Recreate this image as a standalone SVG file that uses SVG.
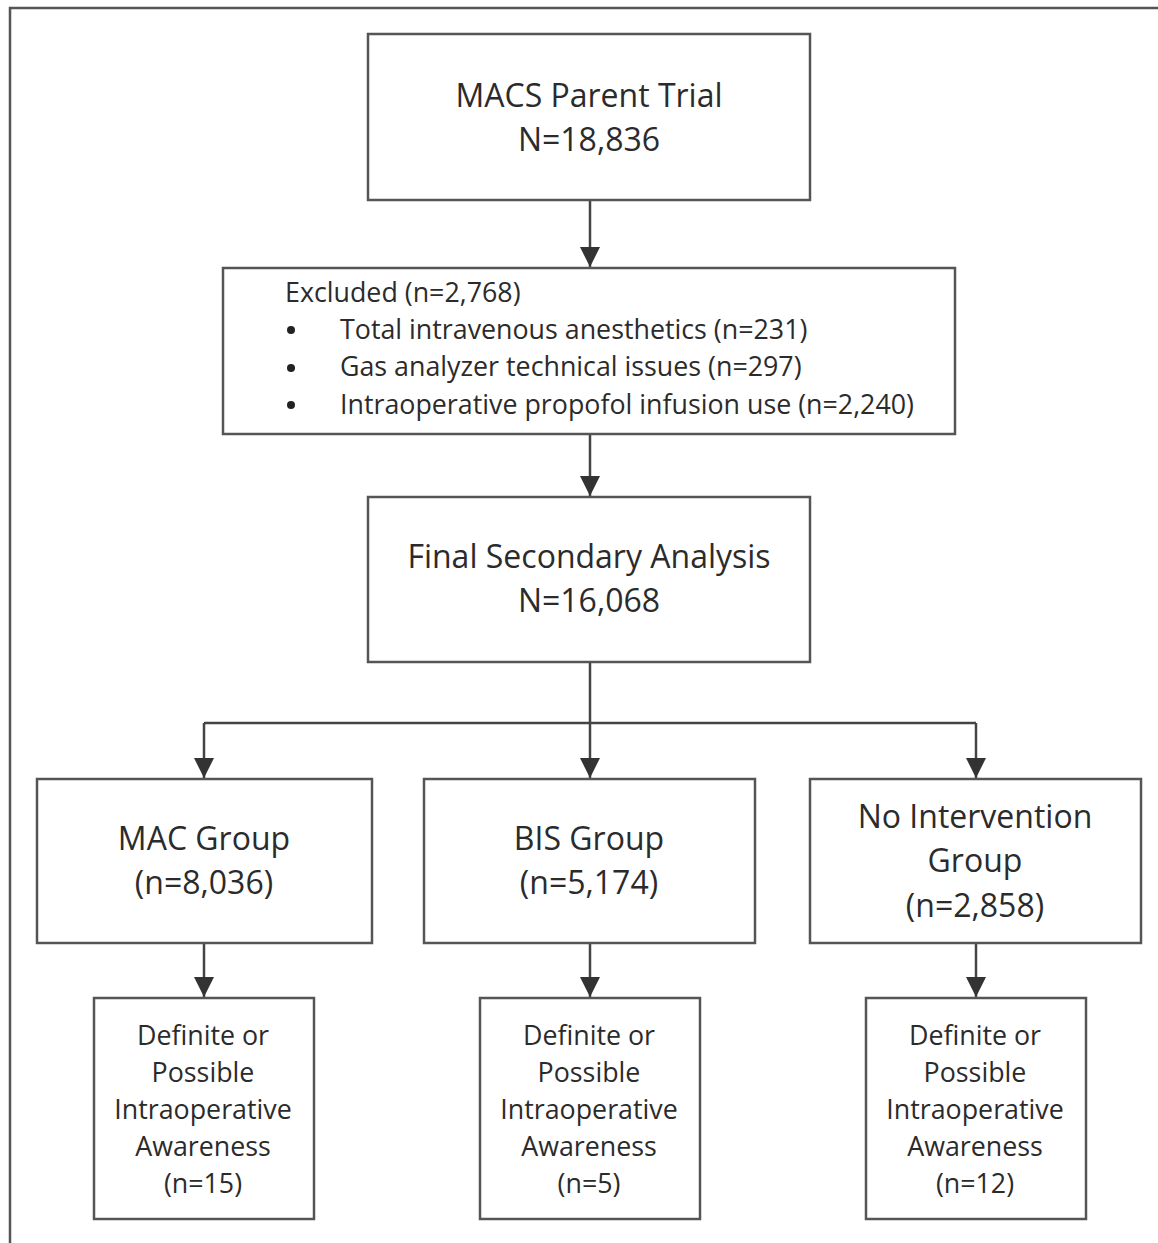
<svg xmlns="http://www.w3.org/2000/svg" width="1158" height="1243" viewBox="0 0 1158 1243">
<defs>
<style>
.box{fill:#fff;stroke:#555;stroke-width:2.5}
.t{font-family:"Open Sans",Lato,sans-serif;fill:#2b2b2b;text-anchor:middle}
.big{font-size:32px}
.mid{font-size:26.8px}
.l{font-family:"Open Sans",Lato,sans-serif;fill:#2b2b2b;font-size:26.8px}
.c{stroke:#444;stroke-width:2.5;fill:none}
</style>
<marker id="ah" viewBox="0 0 20 20" refX="20" refY="10" markerWidth="20" markerHeight="20" markerUnits="userSpaceOnUse" orient="auto">
<path d="M0,0 L20,10 L0,20 z" fill="#333"/>
</marker>
</defs>
<rect x="0" y="0" width="1158" height="1243" fill="#fff"/>
<path d="M10,1243 V8 H1158" fill="none" stroke="#555" stroke-width="2.5"/>
<g id="connectors">
<path class="c" d="M590,200 V267" marker-end="url(#ah)"/>
<path class="c" d="M590,434 V496" marker-end="url(#ah)"/>
<path class="c" d="M590,662 V778" marker-end="url(#ah)"/>
<path class="c" d="M204,723 H976"/>
<path class="c" d="M976,723 V778" marker-end="url(#ah)"/>
<path class="c" d="M204,723 V778" marker-end="url(#ah)"/>
<path class="c" d="M204,943 V997" marker-end="url(#ah)"/>
<path class="c" d="M590,943 V997" marker-end="url(#ah)"/>
<path class="c" d="M976,943 V997" marker-end="url(#ah)"/>
</g>
<g id="macs">
<rect class="box" x="368" y="34" width="442" height="166"/>
<text class="t big" x="589" y="107">MACS Parent Trial</text>
<text class="t big" x="589" y="151">N=18,836</text>
</g>
<g id="excluded">
<rect class="box" x="223" y="268" width="732" height="166"/>
<text class="l" x="285" y="302">Excluded (n=2,768)</text>
<circle cx="291" cy="330" r="4" fill="#222"/>
<circle cx="291" cy="368" r="4" fill="#222"/>
<circle cx="291" cy="405" r="4" fill="#222"/>
<text class="l" x="340" y="339">Total intravenous anesthetics (n=231)</text>
<text class="l" x="340" y="376">Gas analyzer technical issues (n=297)</text>
<text class="l" x="340" y="414">Intraoperative propofol infusion use (n=2,240)</text>
</g>
<g id="final">
<rect class="box" x="368" y="497" width="442" height="165"/>
<text class="t big" x="589" y="568">Final Secondary Analysis</text>
<text class="t big" x="589" y="612">N=16,068</text>
</g>
<g id="mac">
<rect class="box" x="37" y="779" width="335" height="164"/>
<text class="t big" x="204" y="850">MAC Group</text>
<text class="t big" x="204" y="894">(n=8,036)</text>
</g>
<g id="bis">
<rect class="box" x="424" y="779" width="331" height="164"/>
<text class="t big" x="589" y="850">BIS Group</text>
<text class="t big" x="589" y="894">(n=5,174)</text>
</g>
<g id="noint">
<rect class="box" x="810" y="779" width="331" height="164"/>
<text class="t big" x="975" y="828">No Intervention</text>
<text class="t big" x="975" y="872">Group</text>
<text class="t big" x="975" y="917">(n=2,858)</text>
</g>
<g id="aw-mac">
<rect class="box" x="94" y="998" width="220" height="221"/>
<text class="t mid" x="203" y="1045">Definite or</text>
<text class="t mid" x="203" y="1082">Possible</text>
<text class="t mid" x="203" y="1119">Intraoperative</text>
<text class="t mid" x="203" y="1156">Awareness</text>
<text class="t mid" x="203" y="1193">(n=15)</text>
</g>
<g id="aw-bis">
<rect class="box" x="480" y="998" width="220" height="221"/>
<text class="t mid" x="589" y="1045">Definite or</text>
<text class="t mid" x="589" y="1082">Possible</text>
<text class="t mid" x="589" y="1119">Intraoperative</text>
<text class="t mid" x="589" y="1156">Awareness</text>
<text class="t mid" x="589" y="1193">(n=5)</text>
</g>
<g id="aw-noint">
<rect class="box" x="866" y="998" width="220" height="221"/>
<text class="t mid" x="975" y="1045">Definite or</text>
<text class="t mid" x="975" y="1082">Possible</text>
<text class="t mid" x="975" y="1119">Intraoperative</text>
<text class="t mid" x="975" y="1156">Awareness</text>
<text class="t mid" x="975" y="1193">(n=12)</text>
</g>
</svg>
